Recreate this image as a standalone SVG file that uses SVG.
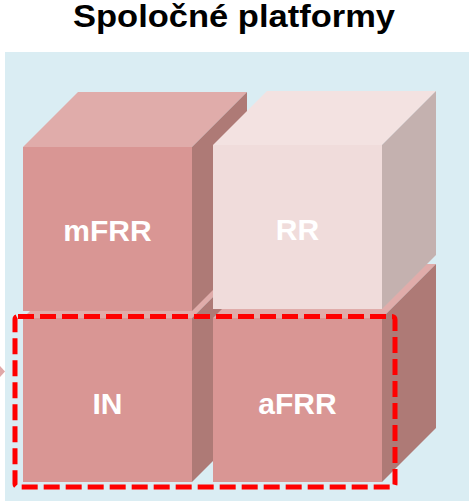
<svg xmlns="http://www.w3.org/2000/svg" width="469" height="501" viewBox="0 0 469 501">
<style>
.front{fill:#D99694}
.top{fill:#E0ACAA}
.side{fill:#AE7A76}
.rrfront{fill:#F0DCDB}
.rrtop{fill:#F3E2E1}
.rrside{fill:#C4B1AF}
.lbl{font-family:"Liberation Sans",Arial,sans-serif;font-weight:bold;font-size:30px;fill:#FFFFFF;text-anchor:middle}
.title{font-family:"Liberation Sans",Arial,sans-serif;font-weight:bold;font-size:31px;fill:#000000}
</style>
<rect x="0" y="0" width="469" height="501" fill="#FFFFFF"/>
<text class="title" x="73" y="27" textLength="322" lengthAdjust="spacingAndGlyphs">Spoločné platformy</text>
<rect x="5" y="52" width="464" height="449" fill="#DAEDF3"/>
<polygon points="0,366 5,371.5 0,377" fill="#E0A8A8"/>
<g id="IN">
<polygon class="top" points="23,318 192,318 247,263 78,263"/>
<polygon class="side" points="192,318 247,263 247,427 192,482"/>
<rect class="front" x="23" y="318" width="169" height="164"/>
<text class="lbl" x="107.5" y="414">IN</text>
</g>
<g id="aFRR">
<polygon class="top" points="213,318 382,318 436,264 267,264"/>
<polygon class="side" points="382,318 436,264 436,428 382,482"/>
<rect class="front" x="213" y="318" width="169" height="164"/>
<text class="lbl" x="297.5" y="414">aFRR</text>
</g>
<g id="mFRR">
<polygon class="top" points="23,147 192,147 247,92 78,92"/>
<polygon class="side" points="192,147 247,92 247,256 192,311"/>
<rect class="front" x="23" y="147" width="169" height="164"/>
<text class="lbl" x="107.5" y="241">mFRR</text>
</g>
<g id="RR">
<polygon class="rrtop" points="213,145 382,145 436,91 267,91"/>
<polygon class="rrside" points="382,145 436,91 436,255 382,309"/>
<rect class="rrfront" x="213" y="145" width="169" height="164"/>
<text class="lbl" x="297.5" y="240">RR</text>
</g>
<g id="connectors">
<rect x="15" y="316.5" width="380" height="170.5" rx="3" fill="none" stroke="#FF0000" stroke-width="5" stroke-dasharray="16,6"/>
</g>
</svg>
